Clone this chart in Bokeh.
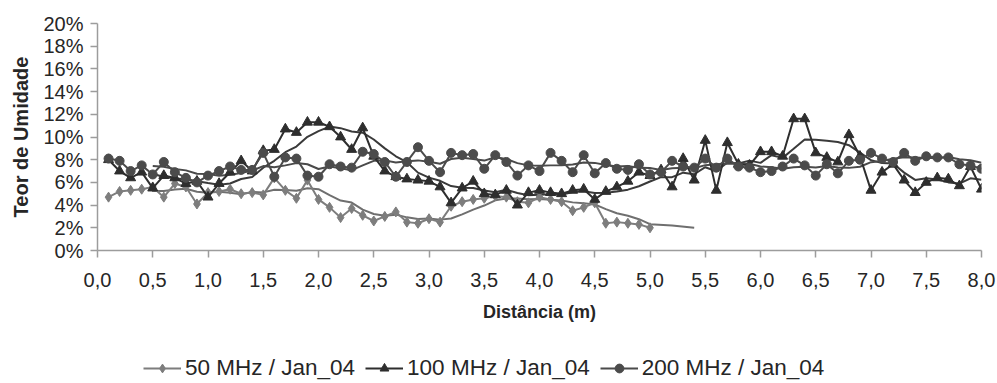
import numpy as np
import pandas as pd
from bokeh.plotting import figure
from bokeh.layouts import column
from bokeh.models import FixedTicker, Legend, LegendItem, Range1d
from bokeh.embed import file_html
from bokeh.resources import INLINE

# Distance along the profile (m), sampled every 0.1 m
dist_50 = np.round(np.arange(1, 51) * 0.1, 1)
dist = np.round(np.arange(1, 81) * 0.1, 1)

# Moisture content (%) per antenna frequency
umid_50 = [4.7, 5.2, 5.3, 5.4, 5.6, 4.7, 5.9, 5.6, 4.1, 5.1,
           5.2, 5.4, 5.0, 5.1, 4.9, 6.4, 5.3, 4.6, 6.2, 4.5,
           3.8, 2.9, 3.7, 3.1, 2.6, 3.0, 3.4, 2.5, 2.4, 2.8,
           2.5, 3.9, 4.3, 4.5, 4.6, 4.8, 4.7, 4.3, 4.2, 4.7,
           4.5, 4.3, 3.5, 3.8, 4.2, 2.4, 2.5, 2.4, 2.3, 2.0]

umid_100 = [8.0, 7.0, 6.4, 6.9, 5.5, 6.6, 6.4, 5.9, 6.1, 4.7,
            5.9, 6.9, 7.9, 7.0, 8.8, 8.9, 10.7, 10.4, 11.3, 11.3,
            10.9, 10.0, 8.9, 10.8, 8.3, 7.0, 6.5, 6.3, 6.2, 6.1,
            5.6, 4.2, 5.5, 6.1, 5.0, 4.9, 5.3, 4.0, 5.1, 5.3,
            5.1, 5.0, 5.3, 5.4, 4.5, 5.2, 5.6, 6.1, 6.9, 6.6,
            7.1, 5.6, 8.1, 6.2, 9.7, 5.3, 9.5, 7.6, 7.5, 8.7,
            8.7, 8.3, 11.6, 11.6, 8.6, 8.2, 7.8, 10.2, 8.3, 5.3,
            6.9, 7.6, 6.2, 5.1, 6.0, 6.4, 6.3, 5.7, 7.4, 5.4]

umid_200 = [8.1, 7.9, 7.0, 7.5, 6.7, 7.8, 6.9, 6.4, 6.0, 6.6,
            7.0, 7.4, 7.1, 7.1, 8.6, 6.5, 8.2, 8.1, 6.6, 6.5,
            7.6, 7.4, 7.3, 8.7, 8.5, 7.8, 6.5, 7.8, 9.1, 7.9,
            6.9, 8.6, 8.4, 8.5, 7.2, 8.4, 7.8, 6.6, 7.5, 7.0,
            8.6, 7.9, 6.9, 8.4, 6.8, 7.7, 7.2, 7.1, 7.6, 6.7,
            6.9, 7.9, 7.4, 7.3, 8.1, 7.3, 8.1, 7.4, 7.3, 6.9,
            7.0, 7.4, 8.1, 7.5, 6.6, 7.6, 6.8, 7.9, 8.0, 8.6,
            8.1, 7.8, 8.6, 7.9, 8.3, 8.2, 8.2, 7.6, 7.5, 7.2]

# End of the 50 MHz trend line past the last reading
trend50_tail_x = [5.2, 5.4]
trend50_tail_y = [2.2, 2.0]

x_ticks = [0.0, 0.5, 1.0, 1.5, 2.0, 2.5, 3.0, 3.5, 4.0, 4.5,
           5.0, 5.5, 6.0, 6.5, 7.0, 7.5, 8.0]
x_tick_labels = ["0,0", "0,5", "1,0", "1,5", "2,0", "2,5", "3,0", "3,5", "4,0",
                 "4,5", "5,0", "5,5", "6,0", "6,5", "7,0", "7,5", "8,0"]
y_ticks = [0, 2, 4, 6, 8, 10, 12, 14, 16, 18, 20]
y_tick_labels = ["0%", "2%", "4%", "6%", "8%", "10%", "12%", "14%", "16%", "18%", "20%"]

series_names = ["50 MHz / Jan_04", "100 MHz / Jan_04", "200 MHz / Jan_04"]

PERIOD = 5  # moving-average trend period


def moving_average(xs, ys):
    ma = pd.Series(ys, dtype=float).rolling(PERIOD).mean()
    keep = ~ma.isna()
    return list(np.asarray(xs)[keep.values]), list(ma[keep].values)


FONT = "Liberation Sans"
AXIS_GREY = "#9c9c9c"
TEXT = "#262626"

C50, C100, C200 = "#7d7d7d", "#2e2e2e", "#4b4b4b"
T50, T100, T200 = "#6f6f6f", "#3a3a3a", "#4a4a4a"
MARKERS = [("diamond", 10, C50), ("triangle", 10, C100), ("circle", 9, C200)]
SERIES = [(dist_50, umid_50), (dist, umid_100), (dist, umid_200)]

p = figure(width=997, height=340,
           x_range=Range1d(0, 8), y_range=Range1d(0, 20),
           output_backend="svg", toolbar_location=None,
           min_border_left=97, min_border_right=16,
           min_border_top=23, min_border_bottom=90)
p.xgrid.visible = False
p.ygrid.visible = False
p.outline_line_color = None
p.background_fill_color = "white"
p.border_fill_color = "white"

# Axes
p.xaxis.ticker = FixedTicker(ticks=x_ticks)
p.xaxis.major_label_overrides = dict(zip(x_ticks, x_tick_labels))
p.yaxis.ticker = FixedTicker(ticks=y_ticks)
p.yaxis.major_label_overrides = dict(zip(y_ticks, y_tick_labels))
for ax in (p.xaxis, p.yaxis):
    ax.axis_line_color = AXIS_GREY
    ax.axis_line_width = 1.5
    ax.major_tick_line_color = AXIS_GREY
    ax.major_tick_line_width = 1.5
    ax.major_tick_out = 7
    ax.major_tick_in = 0
    ax.minor_tick_line_color = None
    ax.major_label_text_font = FONT
    ax.major_label_text_font_size = "20px"
    ax.major_label_text_color = TEXT
    ax.axis_label_text_font = FONT
    ax.axis_label_text_font_style = "bold"
    ax.axis_label_text_color = TEXT

p.xaxis.axis_label = "Distância (m)"
p.xaxis.axis_label_text_font_size = "18px"
p.xaxis.major_label_standoff = 15
p.xaxis.axis_label_standoff = 12
p.yaxis.axis_label = "Teor de Umidade"
p.yaxis.axis_label_text_font_size = "20px"
p.yaxis.major_label_standoff = 7
p.yaxis.axis_label_standoff = 8

# Moving-average trend lines
tx50, ty50 = moving_average(dist_50, umid_50)
p.line(tx50 + trend50_tail_x, ty50 + trend50_tail_y, line_color=T50, line_width=2)
tx100, ty100 = moving_average(dist, umid_100)
p.line(tx100, ty100, line_color=T100, line_width=2)
tx200, ty200 = moving_average(dist, umid_200)
p.line(tx200, ty200, line_color=T200, line_width=2)

# Measured series
for (xs, ys), (mk, sz, col) in zip(SERIES, MARKERS):
    p.line(xs, ys, line_color=col, line_width=2)
    p.scatter(xs, ys, marker=mk, size=sz, fill_color=col, line_color=col)

# Legend strip underneath the chart (its ranges keep the series out of view,
# so only the legend keys show)
leg_fig = figure(width=997, height=43, x_range=Range1d(0, 1), y_range=Range1d(0, 1),
                 output_backend="svg", toolbar_location=None,
                 x_axis_location=None, y_axis_location=None,
                 min_border=0, min_border_left=0, min_border_right=0,
                 min_border_top=0, min_border_bottom=0)
leg_fig.grid.visible = False
leg_fig.outline_line_color = None

items = []
for name, (xs, ys), (mk, sz, col) in zip(series_names, SERIES, MARKERS):
    ln = leg_fig.line(xs, ys, line_color=col, line_width=2)
    sc = leg_fig.scatter(xs, ys, marker=mk, size=sz - 2, fill_color=col, line_color=col)
    items.append(LegendItem(label=name, renderers=[ln, sc]))

legend = Legend(
    items=items, orientation="horizontal", location=(46, 2),
    label_text_font=FONT, label_text_font_size="22.5px", label_text_color=TEXT,
    glyph_width=38, glyph_height=22, label_height=22, label_standoff=4,
    spacing=10, padding=0, margin=0,
    border_line_color=None, background_fill_alpha=0.0)
leg_fig.add_layout(legend, "center")

page = column(p, leg_fig, spacing=0)
open("out.html", "w").write(file_html(page, INLINE))
